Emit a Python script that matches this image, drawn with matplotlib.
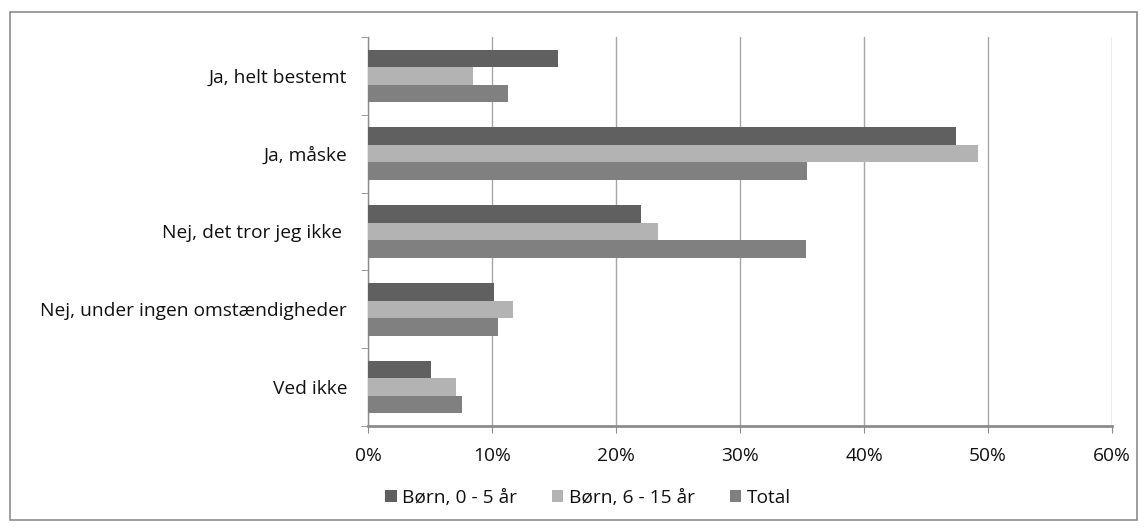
import matplotlib
matplotlib.use("Agg")
import matplotlib.pyplot as plt
from matplotlib.patches import Rectangle
from matplotlib.ticker import FixedLocator
import numpy as np

categories = ["Ja, helt bestemt", "Ja, måske", "Nej, det tror jeg ikke ",
              "Nej, under ingen omstændigheder", "Ved ikke"]
series_names = ["Børn, 0 - 5 år", "Børn, 6 - 15 år", "Total"]
born_0_5 = [15.3, 47.4, 22.0, 10.2, 5.1]
born_6_15 = [8.5, 49.2, 23.4, 11.7, 7.1]
total = [11.3, 35.4, 35.3, 10.5, 7.6]
xticks = [0, 10, 20, 30, 40, 50, 60]
xtick_labels = ["0%", "10%", "20%", "30%", "40%", "50%", "60%"]

colors = ["#606060", "#b3b3b3", "#808080"]

plt.rcParams['font.family'] = ['Open Sans', 'DejaVu Sans']
FS = 13.8

fig = plt.figure(figsize=(11.47, 5.31), dpi=100)
ax = fig.add_axes([368/1147, 1-426/531, (1112-368)/1147, (426-37)/531])

y = np.arange(len(categories))
h = 0.225
data = [born_0_5, born_6_15, total]
for i, (vals, c, name) in enumerate(zip(data, colors, series_names)):
    ax.barh(y + (i - 1) * h, vals, height=h, color=c, label=name, zorder=3)

ax.set_xlim(0, 60)
ax.set_ylim(len(categories) - 0.5, -0.5)
ax.set_xticks(xticks)
ax.set_xticklabels(xtick_labels)
ax.xaxis.grid(True, color="#a6a6a6", linewidth=1, zorder=0)
ax.set_yticks(y)
ax.set_yticklabels(categories)
ax.yaxis.set_minor_locator(FixedLocator(np.arange(-0.5, len(categories), 1)))
ax.tick_params(axis='y', which='major', length=0, pad=15, labelsize=FS, labelcolor="#111111")
ax.tick_params(axis='y', which='minor', length=5, color="#8c8c8c", direction='out')
ax.tick_params(axis='x', length=5, color="#8c8c8c", direction='out', pad=10, labelsize=FS,
               labelcolor="#111111")

for s in ["top", "right"]:
    ax.spines[s].set_visible(False)
ax.spines["left"].set_color("#8c8c8c")
ax.spines["left"].set_linewidth(1)
ax.spines["bottom"].set_color("#8c8c8c")
ax.spines["bottom"].set_linewidth(2)

fig.legend(loc="center", bbox_to_anchor=(588/1147, 1-498/531), ncol=3, frameon=False,
           handlelength=0.6, handleheight=0.6, handletextpad=0.3, columnspacing=1.8,
           fontsize=FS, labelcolor="#111111")

fig.patches.append(Rectangle((10/1147, 1-520/531), (1137-10)/1147, (520-12)/531,
                             transform=fig.transFigure, fill=False,
                             edgecolor="#8c8c8c", linewidth=1.2))

fig.savefig("out.png", dpi=100)
